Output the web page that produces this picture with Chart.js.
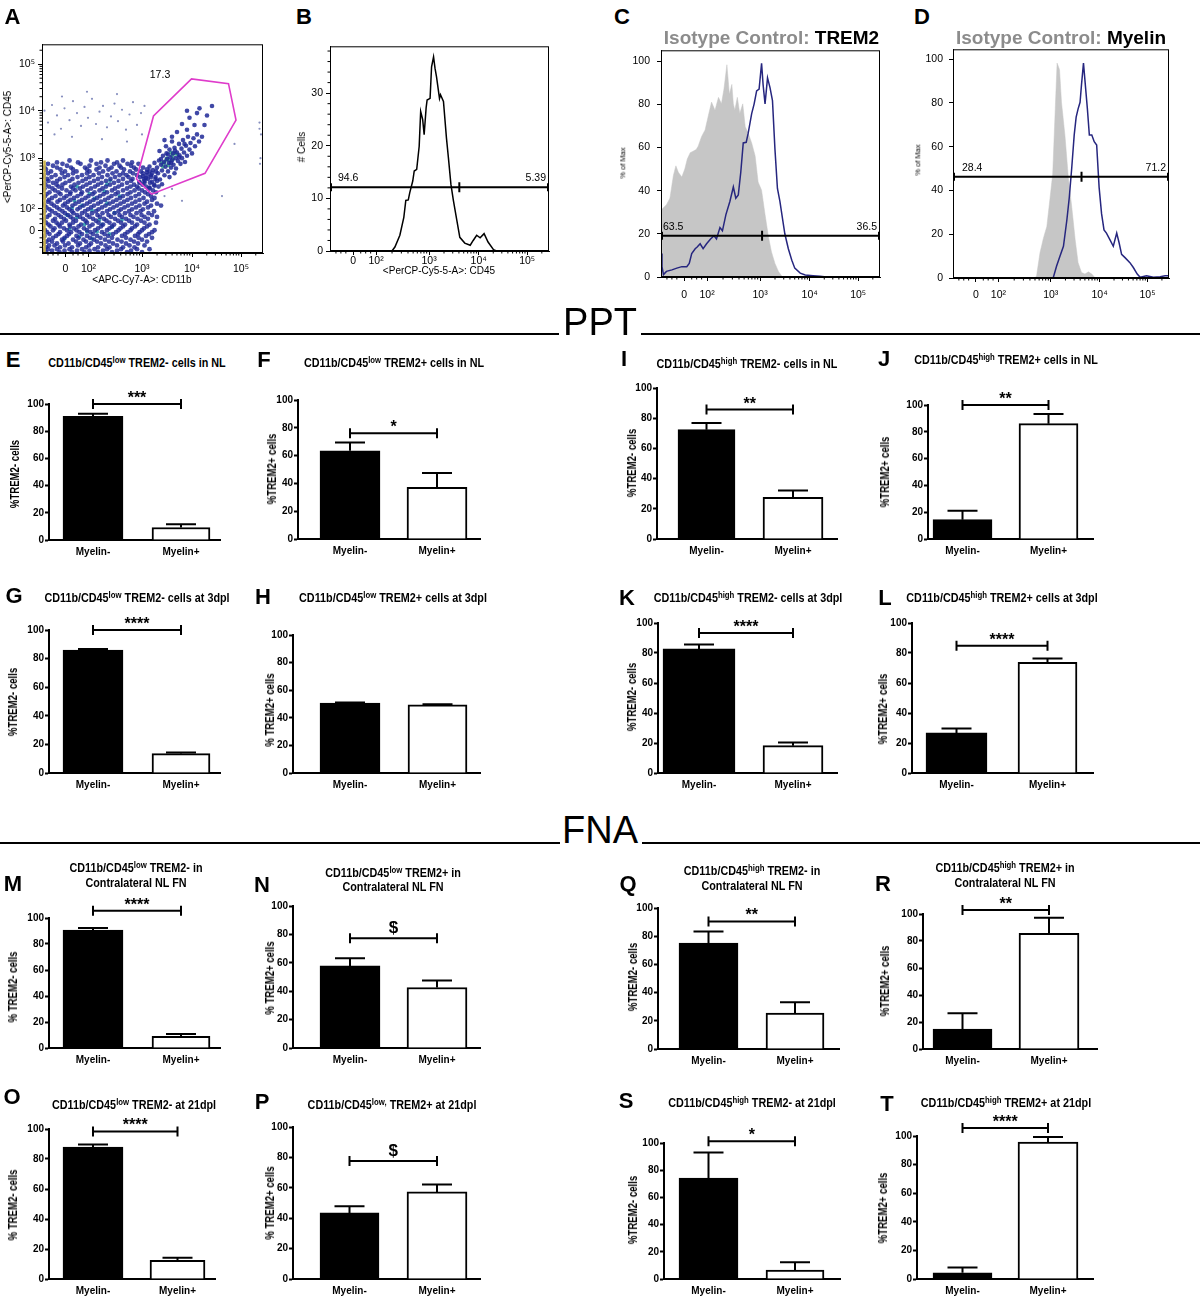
<!DOCTYPE html>
<html><head><meta charset="utf-8"><title>Myelin / TREM2 flow cytometry figure</title>
<script src="https://cdn.jsdelivr.net/npm/chart.js"></script>
<style>
html,body{margin:0;padding:0;background:#fff;}
body{position:relative;width:1204px;height:1300px;overflow:hidden;font-family:"Liberation Sans",Arial,Helvetica,sans-serif;}
canvas{position:absolute;}
.tx{position:absolute;white-space:nowrap;line-height:1;color:#000;transform:translate(-50%,-50%);}
.rot{transform:translate(-50%,-50%) rotate(-90deg);}
.cnd{transform:translate(-50%,-50%) scaleX(0.8);}
.rot.cnd{transform:translate(-50%,-50%) rotate(-90deg) scaleX(0.8);}
sup{font-size:0.72em;vertical-align:0.45em;line-height:0;}
.rule{position:absolute;height:2px;background:#000;}
</style></head><body>
<script>
// ====================== DATA ======================
const categories = ['Myelin-', 'Myelin+'];
const panelIds = ['E','F','I','J','G','H','K','L','M','N','Q','R','O','P','S','T'];
const myelinNeg    = [91.0, 63.4, 72.4, 14.4, 86.0, 50.6, 82.7, 26.7, 90.8, 57.8, 75.1, 14.8, 88.0, 43.5, 74.2, 4.4];
const myelinNegSem = [1.8, 6.0, 4.4, 6.7, 0.7, 0.5, 2.9, 2.9, 1.5, 5.4, 8.3, 11.6, 1.6, 4.4, 18.9, 3.7];
const myelinPos    = [9.2, 37.1, 27.6, 86.1, 13.5, 49.4, 18.2, 73.8, 9.0, 42.6, 25.4, 85.7, 12.4, 57.3, 6.6, 95.8];
const myelinPosSem = [2.3, 10.3, 4.6, 7.2, 0.9, 0.5, 2.2, 2.6, 1.8, 4.9, 7.8, 11.6, 1.8, 4.8, 5.7, 3.5];
const bracketLevel = [100, 76, 85.7, 100, 100, null, 93.3, 84.9, 105.6, 77.3, 90.5, 103, 98.4, 77.7, 101.2, 105.6];
const sigLabel     = ['***','*','**','**','****','','****','****','****','$','**','**','****','$','*','****'];
const pctTicks = [0, 20, 40, 60, 80, 100];

const titleSup  = ['low','low','high','high','low','low','high','high','low','low','high','high','low','low,','high','high'];
const titleRest = [' TREM2- cells in NL',' TREM2+ cells in NL',' TREM2- cells in NL',' TREM2+ cells in NL',
  ' TREM2- cells at 3dpl',' TREM2+ cells at 3dpl',' TREM2- cells at 3dpl',' TREM2+ cells at 3dpl',
  ' TREM2- in',' TREM2+ in',' TREM2- in',' TREM2+ in',
  ' TREM2- at 21dpl',' TREM2+ at 21dpl',' TREM2- at 21dpl',' TREM2+ at 21dpl'];
const titleLine2 = ['','','','','','','','','Contralateral NL FN','Contralateral NL FN','Contralateral NL FN','Contralateral NL FN','','','',''];
const yTitles = ['%TREM2- cells','%TREM2+ cells','%TREM2- cells','%TREM2+ cells','%TREM2- cells','% TREM2+ cells','%TREM2- cells','%TREM2+ cells',
  '% TREM2- cells','% TREM2+ cells','%TREM2- cells','%TREM2+ cells','% TREM2- cells','% TREM2+ cells','%TREM2- cells','%TREM2+ cells'];

// flow axes (biexponential display units)
const flowTickPos    = [1.47, 1.93, 3, 4, 4.98];
const flowTickLabels = ['0', '10²', '10³', '10⁴', '10⁵'];
const countTicks = [0, 10, 20, 30];

// B: CD45 histogram
const histB_u     = [1.0, 2.25, 2.31, 2.41, 2.49, 2.53, 2.58, 2.61, 2.67, 2.70, 2.75, 2.80, 2.83, 2.87, 2.90, 2.94, 2.96, 3.02, 3.05, 3.09, 3.12, 3.15, 3.21, 3.23, 3.29, 3.35, 3.39, 3.44, 3.49, 3.56, 3.62, 3.72, 3.83, 3.89, 3.96, 4.03, 4.11, 4.19, 4.30, 4.36, 5.42];
const histB_cells = [0, 0, 0.75, 3, 6.4, 9.6, 9.7, 11.1, 13.3, 15.2, 15.5, 19.9, 26.5, 25, 22.1, 27.2, 28.7, 29, 35, 36.9, 34.7, 33.1, 29, 29.7, 28.4, 21.5, 17.7, 12.7, 9.6, 5.8, 2.6, 1.5, 1.1, 2.0, 3.0, 2.5, 3.3, 1.7, 0.25, 0, 0];

// C: isotype vs TREM2
const isoC_u   = [1.0, 1.01, 1.11, 1.18, 1.25, 1.30, 1.35, 1.42, 1.48, 1.53, 1.59, 1.65, 1.71, 1.75, 1.82, 1.89, 1.95, 2.02, 2.09, 2.16, 2.22, 2.27, 2.33, 2.38, 2.43, 2.46, 2.49, 2.54, 2.59, 2.65, 2.70, 2.76, 2.83, 2.90, 2.96, 3.03, 3.10, 3.17, 3.23, 3.30, 3.37, 3.44, 3.50];
const isoC_pct = [31, 31.2, 33.5, 36.5, 47, 51.5, 48.5, 46.3, 50, 54.6, 57.6, 58.3, 59, 60.6, 65.1, 68.1, 74.2, 81, 77.2, 83.2, 80.2, 87, 98.3, 84.7, 89.2, 80.2, 77.2, 83.2, 75.7, 80.2, 69.6, 66.6, 62.1, 56.1, 44, 40.2, 28.9, 18.4, 11.6, 6.3, 2.6, 0.3, 0];
const trem2C_u   = [1.0, 1.02, 1.05, 1.11, 1.22, 1.32, 1.42, 1.52, 1.57, 1.62, 1.69, 1.73, 1.79, 1.85, 1.92, 2.00, 2.07, 2.12, 2.19, 2.24, 2.31, 2.39, 2.46, 2.51, 2.56, 2.61, 2.66, 2.72, 2.76, 2.83, 2.88, 2.93, 2.98, 3.03, 3.06, 3.10, 3.15, 3.20, 3.25, 3.30, 3.35, 3.40, 3.46, 3.50, 3.57, 3.64, 3.70, 3.81, 3.91, 4.07, 4.21, 4.34, 5.42];
const trem2C_pct = [10.9, 4.8, 1.1, 2.6, 3.3, 4.1, 4.8, 4.8, 6.3, 10.9, 13.1, 13.9, 15.4, 13.1, 15.4, 17.6, 19.1, 17.6, 22.9, 21.4, 28.9, 35, 41.7, 36.5, 38, 48.5, 62.1, 62.4, 66.6, 75.7, 80.2, 86.2, 87, 99, 89.2, 80.2, 92.2, 87.7, 81.7, 59.1, 41, 35, 25.9, 19.9, 13.1, 7.8, 4.1, 1.8, 0.9, 0.6, 0.3, 0, 0];

// D: isotype vs Myelin
const isoD_u   = [1.0, 2.68, 2.71, 2.78, 2.85, 2.92, 2.98, 3.04, 3.09, 3.13, 3.18, 3.22, 3.29, 3.36, 3.43, 3.50, 3.56, 3.63, 3.70, 3.77, 3.84, 3.91, 5.42];
const isoD_pct = [0, 0, 1, 11.5, 18.2, 23.5, 35.4, 47.4, 75.8, 98.2, 95.2, 80.3, 65.3, 45.9, 32.4, 17.5, 7, 2.5, 1.8, 2.8, 1.8, 0, 0];
const myelinD_u   = [1.0, 3.05, 3.12, 3.19, 3.26, 3.33, 3.38, 3.43, 3.48, 3.52, 3.56, 3.60, 3.63, 3.67, 3.71, 3.75, 3.79, 3.84, 3.89, 3.94, 3.99, 4.04, 4.09, 4.14, 4.21, 4.28, 4.35, 4.40, 4.45, 4.52, 4.62, 4.69, 4.77, 4.83, 4.96, 5.10, 5.24, 5.34, 5.42];
const myelinD_pct = [0, 0, 5.5, 10, 14.5, 26.5, 36.9, 50.4, 65.3, 73.5, 77.3, 80.3, 88.5, 98.2, 87.7, 77.3, 65.3, 65.3, 62.3, 60.8, 41.4, 29.4, 22, 20.5, 17.5, 14.5, 20.5, 16, 10.8, 9.3, 7, 4.8, 1.8, 0.3, 1, 0.3, 0.6, 1, 1];

// histogram gates (B, C, D)
const gateLevel = [12.1, 19.1, 46.3];
const gateSplit = [3.61, 3.04, 3.63];
const gateLeftPct  = ['94.6', '63.5', '28.4'];
const gateRightPct = ['5.39', '36.5', '71.2'];

// A: CD11b vs CD45 dot plot
const gateA = [[2.89,2.56],[3.23,3.89],[3.99,4.67],[4.73,4.57],[4.88,3.80],[4.26,2.68],[3.19,2.24]];
const gateAPct = '17.3';
const edgePileup = [[1.05,1.02],[1.05,2.95]];
const lowCloudRows = [
 [2.95, 1.55,1.98,2.31,2.62],
 [2.91, 1.3,1.72,2.18,2.5,2.8],
 [2.88, 1.12,1.41,1.77,2.09,2.44,2.71,2.93],
 [2.84, 1.22,1.5,1.95,2.27,2.55,2.78],
 [2.80, 1.05,1.3,1.58,1.86,2.15,2.39,2.58,2.84,3.02],
 [2.76, 1.08,1.37,1.62,1.9,2.09,2.33,2.64,2.88,3.1],
 [2.72, 1.18,1.46,1.69,1.95,2.22,2.49,2.76,2.98,3.15],
 [2.68, 1.12,1.4,1.62,1.9,2.14,2.41,2.62,2.82,3.02,3.2],
 [2.64, 1.03,1.27,1.52,1.8,2.03,2.31,2.55,2.69,2.9,3.1],
 [2.60, 1.02,1.19,1.45,1.71,1.95,2.2,2.46,2.73,2.96,3.18],
 [2.56, 1.1,1.36,1.61,1.88,2.12,2.37,2.62,2.81,3.04,3.27],
 [2.52, 1.13,1.3,1.55,1.81,2.04,2.28,2.53,2.78,3.05,3.3],
 [2.48, 1.04,1.22,1.47,1.73,1.96,2.19,2.44,2.7,2.95,3.16],
 [2.44, 1.07,1.29,1.41,1.65,1.89,2.12,2.36,2.6,2.84,3.01,3.24],
 [2.40, 1.14,1.33,1.58,1.82,2.06,2.28,2.53,2.77,2.9,3.08,3.33],
 [2.36, 1.05,1.21,1.4,1.62,1.76,1.98,2.21,2.46,2.7,2.93,3.15],
 [2.32, 1.02,1.26,1.49,1.67,1.91,2.15,2.4,2.62,2.85,3.0,3.22],
 [2.28, 1.15,1.33,1.57,1.8,2.05,2.3,2.52,2.77,3.06,3.28],
 [2.24, 1.09,1.37,1.56,1.78,2.01,2.23,2.47,2.71,2.94,3.12],
 [2.20, 1.06,1.27,1.49,1.71,1.93,2.16,2.39,2.62,2.87,3.18],
 [2.16, 1.03,1.2,1.44,1.64,1.87,2.1,2.33,2.56,2.78,3.03,3.25],
 [2.12, 1.14,1.36,1.57,1.8,2.03,2.26,2.49,2.71,2.95,3.2],
 [2.08, 1.12,1.31,1.52,1.74,1.96,2.18,2.42,2.64,2.87,3.1],
 [2.04, 1.02,1.19,1.46,1.67,1.9,2.12,2.35,2.57,2.8,3.05,3.3],
 [2.00, 1.05,1.24,1.42,1.61,1.83,2.04,2.27,2.5,2.72,2.95,3.18,3.38],
 [1.96, 1.09,1.3,1.5,1.76,1.98,2.2,2.43,2.65,2.88,3.12],
 [1.92, 1.15,1.35,1.55,1.71,1.92,2.13,2.36,2.58,2.8,3.02],
 [1.88, 1.05,1.2,1.41,1.6,1.86,2.08,2.3,2.53,2.74,2.97,3.24],
 [1.84, 1.02,1.27,1.46,1.63,1.8,2.0,2.21,2.45,2.66,2.89,3.13],
 [1.80, 1.15,1.33,1.52,1.7,1.9,2.11,2.33,2.55,2.77,2.99,3.2],
 [1.76, 1.1,1.38,1.57,1.76,1.95,2.16,2.38,2.6,2.83,3.05,3.3],
 [1.72, 1.03,1.26,1.44,1.62,1.82,2.02,2.24,2.46,2.68,2.91,3.12],
 [1.68, 1.04,1.22,1.48,1.68,1.87,2.08,2.29,2.52,2.74,2.98],
 [1.64, 1.08,1.29,1.4,1.62,1.9,2.13,2.35,2.58,2.8,3.05,3.28],
 [1.60, 1.13,1.33,1.55,1.78,2.01,2.22,2.44,2.66,2.9,3.15],
 [1.56, 1.17,1.36,1.56,1.73,1.95,2.18,2.4,2.62,2.86,3.1],
 [1.52, 1.02,1.25,1.44,1.64,1.84,2.12,2.35,2.57,2.8,3.04],
 [1.48, 1.06,1.22,1.5,1.69,1.9,2.06,2.3,2.53,2.77,3.0,3.25],
 [1.44, 1.1,1.36,1.58,1.75,1.97,2.2,2.48,2.71,2.95,3.2],
 [1.40, 1.15,1.33,1.54,1.8,2.02,2.25,2.42,2.66,2.92,3.14],
 [1.36, 1.05,1.28,1.5,1.69,1.9,2.1,2.32,2.6,2.86,3.08],
 [1.32, 1.02,1.22,1.45,1.73,1.96,2.17,2.4,2.68,2.93,3.2],
 [1.28, 1.14,1.4,1.62,1.83,2.04,2.26,2.51,2.77,3.0],
 [1.24, 1.09,1.2,1.42,1.68,1.88,2.1,2.34,2.59,2.84,3.1],
 [1.20, 1.03,1.3,1.53,1.76,1.98,2.18,2.42,2.68,2.92],
 [1.16, 1.14,1.25,1.46,1.72,1.94,2.27,2.5,2.75,3.05],
 [1.12, 1.08,1.36,1.6,1.88,2.12,2.35,2.62,2.85],
 [1.08, 1.12,1.3,1.55,1.8,2.05,2.3,2.58,2.9,3.15],
 [1.05, 1.02,1.2,1.45,1.7,1.95,2.22,2.5,2.78],
 [1.02, 1.08,1.35,1.6,1.85,2.12,2.4,2.7,3.0]
];
const lowCoreDots = [[1.55,1.5],[1.7,1.75],[1.85,1.6],[2.0,1.9],[2.15,1.7],[2.3,2.05],[1.65,2.1],[1.95,2.25],[2.4,1.55],[1.75,1.35],
 [2.1,1.45],[2.25,2.3],[1.6,1.95],[2.45,1.85],[1.9,1.45],[2.05,2.15],[2.55,2.2],[1.5,1.8],[2.35,1.4],[1.8,2.0],[2.2,1.6],[1.45,1.3],
 [2.6,1.7],[1.7,2.4],[2.0,1.3],[2.36,2.53],[2.3,2.45]];
const gatedDots = [[2.95,2.5],[3.02,2.62],[3.05,2.48],[3.1,2.7],[3.12,2.56],[3.15,2.82],[3.18,2.64],[3.2,2.5],[3.22,2.75],[3.25,2.9],
 [3.27,2.6],[3.3,2.8],[3.32,2.68],[3.34,2.95],[3.36,2.55],[3.38,2.86],[3.4,2.74],[3.42,3.05],[3.44,2.92],[3.45,2.64],[3.47,2.82],
 [3.49,3.1],[3.5,2.98],[3.52,2.72],[3.54,2.9],[3.55,3.18],[3.57,3.02],[3.58,2.8],[3.6,2.95],[3.62,3.1],[3.63,2.86],[3.65,3.22],
 [3.67,3.0],[3.68,2.78],[3.7,3.12],[3.72,2.94],[3.74,3.3],[3.75,3.06],[3.77,2.88],[3.79,3.2],[3.8,3.0],[3.82,3.38],[3.84,3.12],
 [3.86,2.92],[3.88,3.26],[3.9,3.05],[3.92,3.45],[3.95,3.18],[3.97,3.32],[4.0,3.1],[4.03,3.42],[4.06,3.25],[4.1,3.5],[4.14,3.35],
 [4.2,3.45],[3.48,3.25],[3.6,3.35],[3.35,3.15],[3.9,3.6],[4.05,3.7],[3.7,3.55],[3.25,2.42],[3.4,2.45],[3.55,2.6],[3.65,2.68],
 [3.15,2.38],[4.25,3.7],[3.8,3.72],[3.95,3.85],[4.1,3.95],[3.6,3.45],[3.45,3.38],[4.15,4.05],[4.3,3.9],[3.9,4.0],[4.4,4.1],
 [3.28,2.72],[3.38,2.98],[3.52,3.08],[3.66,3.16],[3.85,3.3],[3.08,2.58],[3.58,2.9],[3.74,3.02]];
const gatedCoreDots = [[3.45,2.9],[3.5,3.0],[3.55,2.95],[3.6,3.05],[3.52,2.85],[3.65,3.1],[3.42,2.82],[3.58,3.12],[3.48,2.96],[3.62,2.98],[3.7,3.08],[3.4,2.9]];
const sparseDots = [[1.05,4.0],[1.12,3.75],[1.2,4.12],[1.3,3.9],[1.38,3.62],[1.45,4.05],[1.55,3.8],[1.62,4.2],[1.7,3.95],[1.78,3.68],
 [1.85,4.08],[1.92,3.85],[2.0,4.25],[2.08,3.72],[2.15,3.98],[2.22,4.1],[2.3,3.65],[2.38,3.88],[2.45,4.15],[2.52,3.78],[2.6,4.02],
 [2.68,3.6],[2.75,3.92],[2.82,4.18],[2.9,3.7],[2.98,3.95],[3.05,4.1],[1.25,3.5],[1.6,3.45],[2.2,3.4],[2.7,3.35],[1.9,4.4],[2.5,4.35],
 [1.4,4.3],[3.0,3.5],[5.35,3.75],[5.35,3.62],[5.38,3.5],[5.36,2.88],[5.37,3.0],[4.85,3.3],[4.6,2.2],[3.8,2.1],[3.45,2.2],[3.6,2.35]];

// ====================== LAYOUT ======================
const FONT = '"Liberation Sans", Arial, Helvetica, sans-serif';
Chart.defaults.font.family = FONT;
Chart.defaults.color = '#000';

const barGeom = {
 E:{L:49,R:220,T:404,B:540,c:[93,181],w:[60,58]},
 F:{L:298,R:480,T:400,B:539,c:[350,437],w:[60,60]},
 I:{L:657,R:837,T:388,B:539,c:[706.5,793],w:[57,60]},
 J:{L:928,R:1093,T:405,B:539,c:[962.5,1048.5],w:[59,59]},
 G:{L:49,R:220,T:630,B:773,c:[93,181],w:[60,58]},
 H:{L:293,R:480,T:635,B:773,c:[350,437.5],w:[60,59]},
 K:{L:658,R:837,T:623,B:773,c:[699,793],w:[72,60]},
 L:{L:912,R:1093,T:623,B:773,c:[956.5,1047.5],w:[61,59]},
 M:{L:49,R:220,T:918,B:1048,c:[93,181],w:[60,58]},
 N:{L:293,R:480,T:906,B:1048,c:[350,437],w:[60,60]},
 Q:{L:658,R:839,T:908,B:1049,c:[708.5,795],w:[59,58]},
 R:{L:923,R:1097,T:914,B:1049,c:[962.5,1049],w:[59,60]},
 O:{L:49,R:215,T:1129,B:1279,c:[93,177.5],w:[60,55]},
 P:{L:293,R:480,T:1127,B:1279,c:[349.5,437],w:[59,60]},
 S:{L:664,R:840,T:1143,B:1279,c:[708.5,795],w:[59,58]},
 T:{L:917,R:1093,T:1136,B:1279,c:[962.5,1048],w:[59,60]}
};
const textPos = {
 E:{lx:13,ly:360,tx:137,ty:363,yx:15,yy:474},
 F:{lx:264,ly:360,tx:394,ty:363,yx:272,yy:469},
 I:{lx:624,ly:359,tx:747,ty:364,yx:632,yy:463},
 J:{lx:884,ly:359,tx:1006,ty:360,yx:885,yy:472},
 G:{lx:14,ly:596,tx:137,ty:598,yx:13,yy:702},
 H:{lx:263,ly:597,tx:393,ty:598,yx:270,yy:710},
 K:{lx:627,ly:598,tx:748,ty:598,yx:632,yy:697},
 L:{lx:885,ly:598,tx:1002,ty:598,yx:883,yy:709},
 M:{lx:13,ly:884,tx:136,ty:868,t2y:883,yx:13,yy:987},
 N:{lx:262,ly:885,tx:393,ty:873,t2y:887,yx:270,yy:978},
 Q:{lx:628,ly:884,tx:752,ty:871,t2y:886,yx:633,yy:977},
 R:{lx:883,ly:884,tx:1005,ty:868,t2y:883,yx:885,yy:981},
 O:{lx:12,ly:1097,tx:134,ty:1105,yx:13,yy:1205},
 P:{lx:262,ly:1102,tx:392,ty:1105,yx:270,yy:1203},
 S:{lx:626,ly:1101,tx:752,ty:1103,yx:633,yy:1210},
 T:{lx:887,ly:1104,tx:1006,ty:1103,yx:883,yy:1208}
};

function addText(html, x, y, style, cls){
  const d = document.createElement('div');
  d.className = 'tx' + (cls ? ' ' + cls : '');
  d.innerHTML = html;
  d.style.left = x + 'px'; d.style.top = y + 'px';
  Object.assign(d.style, style || {});
  document.body.appendChild(d);
  return d;
}
function makeCanvas(L, T, R, B, ML, MR, MT, MB){
  const c = document.createElement('canvas');
  const W = Math.round(R - L + ML + MR), H = Math.round(B - T + MT + MB);
  c.width = W; c.height = H;
  c.style.width = W + 'px'; c.style.height = H + 'px';
  c.style.left = (L - ML) + 'px'; c.style.top = (T - MT) + 'px';
  document.body.appendChild(c);
  return c;
}
const pts = (xs, ys) => xs.map((x, i) => ({x, y: ys[i]}));
const pairs = arr => arr.map(p => ({x: p[0], y: p[1]}));

// ====================== BAR PANELS ======================
function barDeco(i){
  return {id: 'barDeco', afterDatasetsDraw(chart){
    const ctx = chart.ctx, xs = chart.scales.x, ys = chart.scales.y;
    ctx.save();
    ctx.strokeStyle = '#000'; ctx.lineWidth = 2;
    ctx.beginPath();
    [[0, myelinNeg[i], myelinNegSem[i]], [1, myelinPos[i], myelinPosSem[i]]].forEach(([k, m, s]) => {
      const px = xs.getPixelForValue(k), y1 = ys.getPixelForValue(m), y2 = ys.getPixelForValue(m + s);
      ctx.moveTo(px, y1); ctx.lineTo(px, y2);
      ctx.moveTo(px - 15, y2); ctx.lineTo(px + 15, y2);
    });
    ctx.stroke();
    const lvl = bracketLevel[i];
    if (lvl !== null){
      const x0 = xs.getPixelForValue(0), x1 = xs.getPixelForValue(1), yb = ys.getPixelForValue(lvl);
      ctx.beginPath();
      ctx.moveTo(x0, yb); ctx.lineTo(x1, yb);
      ctx.moveTo(x0, yb - 5); ctx.lineTo(x0, yb + 5);
      ctx.moveTo(x1, yb - 5); ctx.lineTo(x1, yb + 5);
      ctx.stroke();
      const lab = sigLabel[i], dollar = lab === '$';
      ctx.fillStyle = '#000'; ctx.textAlign = 'center'; ctx.textBaseline = 'alphabetic';
      ctx.font = 'bold ' + (dollar ? 17 : 16) + 'px ' + FONT;
      ctx.fillText(lab, (x0 + x1) / 2, yb - (dollar ? 5 : 1));
    }
    ctx.restore();
  }};
}

function barChart(i){
  const id = panelIds[i], g = barGeom[id];
  const ML = 40, MR = 14, MT = 32, MB = 24;
  const cv = makeCanvas(g.L, g.T, g.R, g.B, ML, MR, MT, MB);
  const span = g.c[1] - g.c[0];
  new Chart(cv, {
    type: 'bar',
    data: {datasets: [
      {label: categories[0], data: [{x: 0, y: myelinNeg[i]}], backgroundColor: '#000', borderColor: '#000', borderWidth: 2, barThickness: g.w[0], grouped: false},
      {label: categories[1], data: [{x: 1, y: myelinPos[i]}], backgroundColor: '#fff', borderColor: '#000', borderWidth: 2, barThickness: g.w[1], grouped: false}
    ]},
    options: {
      responsive: false, animation: false, events: [],
      layout: {padding: {left: 0, right: MR, top: MT, bottom: 0}},
      plugins: {legend: {display: false}, tooltip: {enabled: false}},
      scales: {
        x: {type: 'linear', offset: false, min: (g.L - g.c[0]) / span, max: (g.R - g.c[0]) / span,
            afterBuildTicks: s => { s.ticks = [{value: 0}, {value: 1}]; },
            afterFit: s => { s.height = MB; },
            ticks: {callback: (v, k) => categories[k], font: {size: 10, weight: 'bold'}, color: '#000', padding: 6, autoSkip: false, maxRotation: 0, minRotation: 0},
            grid: {display: true, offset: false, drawOnChartArea: false, drawTicks: false},
            border: {display: true, color: '#000', width: 2}},
        y: {type: 'linear', min: 0, max: 100,
            afterBuildTicks: s => { s.ticks = pctTicks.map(v => ({value: v})); },
            afterFit: s => { s.width = ML; },
            ticks: {font: {size: 10, weight: 'bold'}, color: '#000', padding: 1},
            grid: {display: true, drawOnChartArea: false, drawTicks: true, tickLength: 4, tickWidth: 2, color: '#000'},
            border: {display: true, color: '#000', width: 2}}
      }
    },
    plugins: [barDeco(i)]
  });
  const tp = textPos[id];
  addText(id, tp.lx, tp.ly, {fontSize: '22px', fontWeight: 'bold'});
  addText('CD11b/CD45<sup>' + titleSup[i] + '</sup>' + titleRest[i], tp.tx, tp.ty, {fontSize: '13.5px', fontWeight: 'bold'}, 'cnd');
  if (titleLine2[i]) addText(titleLine2[i], tp.tx, tp.t2y, {fontSize: '13.5px', fontWeight: 'bold'}, 'cnd');
  addText(yTitles[i], tp.yx, tp.yy, {fontSize: '12px', fontWeight: 'bold'}, 'rot cnd');
}
panelIds.forEach((id, i) => barChart(i));

// ====================== FLOW PANELS ======================
const flowMinor = [];
[1.12, 1.22, 1.32, 1.62, 1.72, 1.82].forEach(v => flowMinor.push(v));
for (let k = 2; k <= 9; k++){
  flowMinor.push(1.93 + Math.log10(k) * (3 - 1.93));
  flowMinor.push(3 + Math.log10(k));
  flowMinor.push(4 + Math.log10(k) * 0.98);
  const v = 4.98 + Math.log10(k) * 0.98; if (v < 5.42) flowMinor.push(v);
}

function flowDeco(cfg){
  return {id: 'flowDeco', afterDatasetsDraw(chart){
    const ctx = chart.ctx, a = chart.chartArea, xs = chart.scales.x, ys = chart.scales.y;
    ctx.save();
    if (cfg.poly){
      ctx.strokeStyle = '#df3ccb'; ctx.lineWidth = 1.6;
      ctx.beginPath();
      cfg.poly.forEach((p, k) => { const px = xs.getPixelForValue(p[0]), py = ys.getPixelForValue(p[1]); k ? ctx.lineTo(px, py) : ctx.moveTo(px, py); });
      ctx.closePath(); ctx.stroke();
      ctx.fillStyle = '#000'; ctx.font = '10.5px ' + FONT; ctx.textAlign = 'center'; ctx.textBaseline = 'middle';
      ctx.fillText(cfg.polyLabel[0], xs.getPixelForValue(cfg.polyLabel[1]), ys.getPixelForValue(cfg.polyLabel[2]));
    }
    ctx.strokeStyle = '#000'; ctx.lineWidth = 1;
    ctx.strokeRect(a.left + 0.5, a.top + 0.5, a.right - a.left - 1, a.bottom - a.top - 1);
    ctx.beginPath();
    flowMinor.forEach(u => { const px = xs.getPixelForValue(u); ctx.moveTo(px, a.bottom); ctx.lineTo(px, a.bottom + 2.5); });
    if (cfg.flowY) flowMinor.forEach(u => { const py = ys.getPixelForValue(u); ctx.moveTo(a.left, py); ctx.lineTo(a.left - 2.5, py); });
    if (cfg.minorY) cfg.minorY.forEach(v => { const py = ys.getPixelForValue(v); ctx.moveTo(a.left, py); ctx.lineTo(a.left - 2.5, py); });
    ctx.stroke();
    if (cfg.gate !== undefined){
      const gi = cfg.gate, yl = ys.getPixelForValue(gateLevel[gi]), xsPl = xs.getPixelForValue(gateSplit[gi]);
      ctx.lineWidth = 2;
      ctx.beginPath();
      ctx.moveTo(a.left + 1, yl); ctx.lineTo(a.right - 1, yl);
      ctx.moveTo(a.left + 1, yl - 4); ctx.lineTo(a.left + 1, yl + 4);
      ctx.moveTo(a.right - 1, yl - 4); ctx.lineTo(a.right - 1, yl + 4);
      ctx.moveTo(xsPl, yl - 5); ctx.lineTo(xsPl, yl + 5);
      ctx.stroke();
      ctx.fillStyle = '#000'; ctx.font = '10.5px ' + FONT; ctx.textBaseline = 'middle';
      ctx.textAlign = 'left'; ctx.fillText(gateLeftPct[gi], a.left + cfg.gateLeftOff, yl - 9);
      ctx.textAlign = 'right'; ctx.fillText(gateRightPct[gi], a.right - 3, yl - 9);
    }
    ctx.restore();
  }};
}

function flowChart(box, datasets, yCfg, cfg){
  const ML = 36, MR = 6, MT = 8, MB = 30;
  const cv = makeCanvas(box.L, box.T, box.R, box.B, ML, MR, MT, MB);
  new Chart(cv, {
    type: 'scatter',
    data: {datasets},
    options: {
      responsive: false, animation: false, events: [],
      layout: {padding: {left: 0, right: MR, top: MT, bottom: 0}},
      plugins: {legend: {display: false}, tooltip: {enabled: false}},
      elements: {line: {tension: 0}},
      scales: {
        x: {type: 'linear', min: 1, max: 5.42, offset: false,
            afterBuildTicks: s => { s.ticks = flowTickPos.map(v => ({value: v})); },
            afterFit: s => { s.height = MB; },
            ticks: {callback: (v, k) => flowTickLabels[k], font: {size: 10.5}, color: '#000', padding: cfg.xPad, autoSkip: false, maxRotation: 0, minRotation: 0},
            grid: {display: true, drawOnChartArea: false, drawTicks: true, tickLength: 4, color: '#000', lineWidth: 1},
            border: {display: true, color: '#000', width: 1}},
        y: {type: 'linear', min: yCfg.min, max: yCfg.max,
            afterBuildTicks: s => { s.ticks = yCfg.ticks.map(v => ({value: v})); },
            afterFit: s => { s.width = ML; },
            ticks: {callback: (v, k) => yCfg.labels[k], font: {size: 10.5}, color: '#000', padding: cfg.yPad, autoSkip: false},
            grid: {display: true, drawOnChartArea: false, drawTicks: true, tickLength: 4, color: '#000', lineWidth: 1},
            border: {display: true, color: '#000', width: 1}}
      }
    },
    plugins: [flowDeco(cfg)]
  });
}

// A: dot plot
const lowCloud = lowCloudRows.flatMap(r => r.slice(1).map(x => ({x, y: r[0]})));
flowChart({L: 42, T: 43, R: 263, B: 253}, [
  {data: pairs(edgePileup), showLine: true, borderColor: '#c9b24a', borderWidth: 2.5, pointRadius: 0},
  {data: pairs(sparseDots), pointRadius: 1.1, backgroundColor: 'rgba(95,105,170,0.75)', borderWidth: 0},
  {data: lowCloud, pointRadius: 2.4, backgroundColor: 'rgba(30,40,150,0.82)', borderWidth: 0},
  {data: pairs(lowCoreDots), pointRadius: 2.0, backgroundColor: 'rgba(60,170,175,0.95)', borderWidth: 0},
  {data: pairs(gatedDots), pointRadius: 2.3, backgroundColor: 'rgba(30,40,150,0.85)', borderWidth: 0},
  {data: pairs(gatedCoreDots), pointRadius: 2.0, backgroundColor: 'rgba(70,185,140,0.95)', borderWidth: 0}
], {min: 1, max: 5.4, ticks: flowTickPos, labels: flowTickLabels},
{xPad: 6, yPad: 3, flowY: true, poly: gateA, polyLabel: [gateAPct, 3.36, 4.75]});

// B: CD45 histogram
flowChart({L: 330, T: 45, R: 549, B: 251}, [
  {data: pts(histB_u, histB_cells), showLine: true, borderColor: '#000', borderWidth: 1.5, pointRadius: 0}
], {min: 0, max: 38.9, ticks: countTicks, labels: countTicks.map(String)},
{xPad: 0, yPad: 3, minorY: [2,4,6,8,12,14,16,18,22,24,26,28,32,34,36,38], gate: 0, gateLeftOff: 8});

// C: isotype vs TREM2
flowChart({L: 661, T: 45, R: 880, B: 277}, [
  {data: pts(trem2C_u, trem2C_pct), showLine: true, borderColor: '#26267f', borderWidth: 1.5, pointRadius: 0, order: 1},
  {data: pts(isoC_u, isoC_pct), showLine: true, fill: 'origin', backgroundColor: '#c6c6c6', borderColor: '#c6c6c6', borderWidth: 0.5, pointRadius: 0, order: 2}
], {min: 0, max: 105, ticks: pctTicks, labels: pctTicks.map(String)},
{xPad: 8, yPad: 7, gate: 1, gateLeftOff: 2});

// D: isotype vs Myelin
flowChart({L: 953, T: 45, R: 1169, B: 278}, [
  {data: pts(myelinD_u, myelinD_pct), showLine: true, borderColor: '#26267f', borderWidth: 1.5, pointRadius: 0, order: 1},
  {data: pts(isoD_u, isoD_pct), showLine: true, fill: 'origin', backgroundColor: '#c6c6c6', borderColor: '#c6c6c6', borderWidth: 0.5, pointRadius: 0, order: 2}
], {min: 0, max: 104.5, ticks: pctTicks, labels: pctTicks.map(String)},
{xPad: 7, yPad: 6, gate: 2, gateLeftOff: 9});

// flow panel texts
addText('A', 12.5, 17, {fontSize: '22px', fontWeight: 'bold'});
addText('B', 304, 17, {fontSize: '22px', fontWeight: 'bold'});
addText('C', 622, 17, {fontSize: '22px', fontWeight: 'bold'});
addText('D', 922, 17, {fontSize: '22px', fontWeight: 'bold'});
addText('&lt;APC-Cy7-A&gt;: CD11b', 142, 280, {fontSize: '10px'});
addText('&lt;PerCP-Cy5-5-A&gt;: CD45', 8, 147, {fontSize: '10px'}, 'rot');
addText('&lt;PerCP-Cy5-5-A&gt;: CD45', 439, 271, {fontSize: '10px'});
addText('# Cells', 302, 147, {fontSize: '10px'}, 'rot');
addText('% of Max', 623, 163, {fontSize: '7.5px'}, 'rot');
addText('% of Max', 918, 160, {fontSize: '7.5px'}, 'rot');
addText('<span style="color:#8c8c8c">Isotype Control:</span> TREM2', 771.5, 37, {fontSize: '19px', fontWeight: 'bold'});
addText('<span style="color:#8c8c8c">Isotype Control:</span> Myelin', 1061, 37, {fontSize: '19px', fontWeight: 'bold'});

// section dividers
addText('PPT', 600, 322, {fontSize: '38px'});
addText('FNA', 600, 830, {fontSize: '38px'});
[[0,334,559],[641,334,1200],[0,843,560],[642,843,1200]].forEach(r => {
  const d = document.createElement('div'); d.className = 'rule';
  d.style.left = r[0] + 'px'; d.style.top = (r[1] - 1) + 'px'; d.style.width = (r[2] - r[0]) + 'px';
  document.body.appendChild(d);
});
</script>
</body></html>
